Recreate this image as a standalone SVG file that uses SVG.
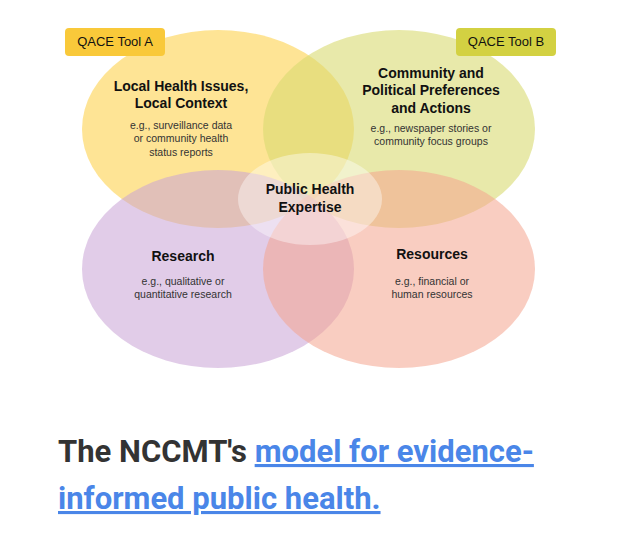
<svg xmlns="http://www.w3.org/2000/svg" width="640" height="559" viewBox="0 0 640 559">
<style>
.t{font-family:"Liberation Sans",Arial,sans-serif;fill:#111;text-anchor:middle}
.h{font-size:14px;font-weight:bold}
.s{font-size:10.5px;fill:#333}
.b{font-family:Roboto,"Liberation Sans",sans-serif;font-weight:bold;font-size:31px}
</style>
<rect width="640" height="559" fill="#fff"/>
<g id="circles">
<ellipse id="c-local" cx="218" cy="129" rx="136" ry="99" fill="#fdd65c" opacity="0.65"/>
<ellipse id="c-community" cx="399" cy="129" rx="136" ry="99" fill="#d8db72" opacity="0.6"/>
<ellipse id="c-research" cx="218" cy="269" rx="136" ry="99" fill="#c8a3d6" opacity="0.55"/>
<ellipse id="c-resources" cx="399" cy="269" rx="136" ry="99" fill="#f4a48e" opacity="0.55"/>
<ellipse id="c-center" cx="310" cy="199" rx="72" ry="46" fill="#fff" opacity="0.4"/>
</g>
<g id="tagA"><rect x="65" y="28" width="100" height="28" rx="4" fill="#f9c93a"/><text class="t" x="115" y="46" font-size="13">QACE Tool A</text></g>
<g id="tagB"><rect x="456" y="28" width="100" height="28" rx="4" fill="#d3d142"/><text class="t" x="506" y="46" font-size="13">QACE Tool B</text></g>
<g id="n-local"><text class="t h" x="181" y="91">Local Health Issues,</text><text class="t h" x="181" y="108">Local Context</text>
<text class="t s" x="181" y="129">e.g., surveillance data</text><text class="t s" x="181" y="142">or community health</text><text class="t s" x="181" y="156">status reports</text></g>
<g id="n-community"><text class="t h" x="431" y="78">Community and</text><text class="t h" x="431" y="95">Political Preferences</text><text class="t h" x="431" y="113">and Actions</text>
<text class="t s" x="431" y="132">e.g., newspaper stories or</text><text class="t s" x="431" y="145">community focus groups</text></g>
<g id="n-center"><text class="t h" x="310" y="194">Public Health</text><text class="t h" x="310" y="212">Expertise</text></g>
<g id="n-research"><text class="t h" x="183" y="261">Research</text><text class="t s" x="183" y="285">e.g., qualitative or</text><text class="t s" x="183" y="298">quantitative research</text></g>
<g id="n-resources"><text class="t h" x="432" y="259">Resources</text><text class="t s" x="432" y="285">e.g., financial or</text><text class="t s" x="432" y="298">human resources</text></g>
<g id="connectors"/>
<g id="caption">
<text class="b" x="58" y="462" fill="#333">The NCCMT's <tspan fill="#4a86e8" text-decoration="underline">model for evidence-</tspan></text>
<text class="b" x="58" y="509" fill="#4a86e8" text-decoration="underline">informed public health.</text>
</g>
</svg>
